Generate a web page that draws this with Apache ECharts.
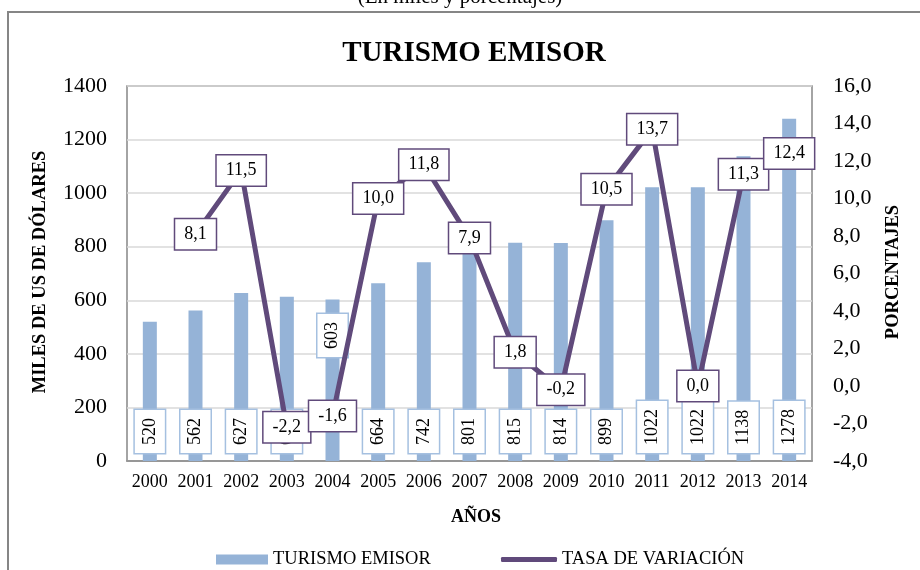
<!DOCTYPE html>
<html><head><meta charset="utf-8">
<script src="https://cdn.jsdelivr.net/npm/echarts@6/dist/echarts.min.js"></script>
<style>html,body{margin:0;padding:0;background:#fff}#c{width:920px;height:570px}</style>
</head><body><div id="c"></div>
<script>
const years = ['2000','2001','2002','2003','2004','2005','2006','2007','2008','2009','2010','2011','2012','2013','2014'];
const turismoEmisor = [520, 562, 627, 613, 603, 664, 742, 801, 815, 814, 899, 1022, 1022, 1138, 1278];
const tasaVariacion = [null, 8.1, 11.5, -2.2, -1.6, 10.0, 11.8, 7.9, 1.8, -0.2, 10.5, 13.7, 0.0, 11.3, 12.4];
const leftTicks = [0, 1400, 200];
const rightTicks = [-4, 16, 2];

const FONT = 'Liberation Serif';
const fmt = v => (v === null || v === undefined || isNaN(v)) ? '' : Number(v).toFixed(1).replace('.', ',');

const barData = turismoEmisor.map((v, i) => i === 4 ? {value: v, label: {distance: 104}} : v);

const chart = echarts.init(document.getElementById('c'), null, {renderer: 'canvas'});
chart.setOption({
  animation: false,
  textStyle: {fontFamily: FONT},
  title: {
    text: 'TURISMO EMISOR', left: 469, top: 34, textAlign: 'center',
    textStyle: {fontFamily: FONT, fontWeight: 'bold', fontSize: 29, color: '#000'}
  },
  graphic: [
    {type: 'rect', shape: {x: 8, y: 12, width: 930, height: 580}, style: {fill: 'none', stroke: '#868686', lineWidth: 2}, silent: true},
    {type: 'text', x: 460, y: -13, style: {text: '(En miles y porcentajes)', font: '21px "Liberation Serif"', fill: '#000', align: 'center', verticalAlign: 'top'}},
    {type: 'text', x: 40, y: 272, rotation: Math.PI / 2, style: {text: 'MILES DE US DE DÓLARES', font: 'bold 18.5px "Liberation Serif"', fill: '#000', align: 'center', verticalAlign: 'middle'}},
    {type: 'text', x: 893, y: 272, rotation: Math.PI / 2, style: {text: 'PORCENTAJES', font: 'bold 18.5px "Liberation Serif"', fill: '#000', align: 'center', verticalAlign: 'middle'}},
    {type: 'text', x: 476, y: 517, style: {text: 'AÑOS', font: 'bold 18px "Liberation Serif"', fill: '#000', align: 'center', verticalAlign: 'middle'}}
  ],
  legend: [
    {
      left: 211, top: 545, itemWidth: 52, itemHeight: 10,
      textStyle: {fontFamily: FONT, fontSize: 18.5, color: '#000'},
      data: [{name: 'TURISMO EMISOR', icon: 'rect'}]
    },
    {
      left: 496, top: 545, itemWidth: 56, itemHeight: 5,
      textStyle: {fontFamily: FONT, fontSize: 18.5, color: '#000'},
      data: [{name: 'TASA DE VARIACIÓN', icon: 'roundRect'}]
    }
  ],
  grid: {left: 127, right: 108, top: 86, bottom: 109, show: true, borderColor: '#868686', borderWidth: 1.5, containLabel: false},
  xAxis: {
    type: 'category', data: years,
    axisTick: {show: false},
    axisLine: {lineStyle: {color: '#868686', width: 1.5}},
    axisLabel: {fontFamily: FONT, fontSize: 18, color: '#000', margin: 12, interval: 0}
  },
  yAxis: [
    {type: 'value', min: leftTicks[0], max: leftTicks[1], interval: leftTicks[2],
      axisLine: {show: false}, axisTick: {show: false},
      axisLabel: {fontFamily: FONT, fontSize: 22, color: '#000', margin: 20, formatter: v => String(v)},
      splitLine: {lineStyle: {color: '#d9d9d9', width: 1.5}}},
    {type: 'value', min: rightTicks[0], max: rightTicks[1], interval: rightTicks[2],
      axisLine: {show: false}, axisTick: {show: false},
      axisLabel: {fontFamily: FONT, fontSize: 22, color: '#000', margin: 21, formatter: fmt},
      splitLine: {show: false}}
  ],
  series: [
    {
      name: 'TASA DE VARIACIÓN', type: 'line', data: tasaVariacion, yAxisIndex: 1, z: 5,
      symbol: 'circle', symbolSize: 2, showSymbol: true, connectNulls: false,
      lineStyle: {color: '#604a7b', width: 5},
      itemStyle: {color: '#604a7b'},
      label: {
        show: true, position: 'inside', formatter: p => fmt(p.value),
        fontFamily: FONT, fontSize: 18, lineHeight: 18, color: '#000',
        backgroundColor: '#fff', borderColor: '#604a7b', borderWidth: 1.5,
        padding: [6, 9, 6, 9]
      }
    },
    {
      name: 'TURISMO EMISOR', type: 'bar', data: barData, barWidth: 14, yAxisIndex: 0, z: 2,
      itemStyle: {color: '#95b3d7'},
      label: {
        show: true, position: 'insideBottom', rotate: 90, distance: 8,
        align: 'left', verticalAlign: 'middle',
        fontFamily: FONT, fontSize: 18, lineHeight: 18, color: '#000',
        backgroundColor: '#fff', borderColor: '#a5c0e0', borderWidth: 1.5,
        padding: [6, 8, 6, 8]
      }
    }
  ]
});
</script></body></html>
